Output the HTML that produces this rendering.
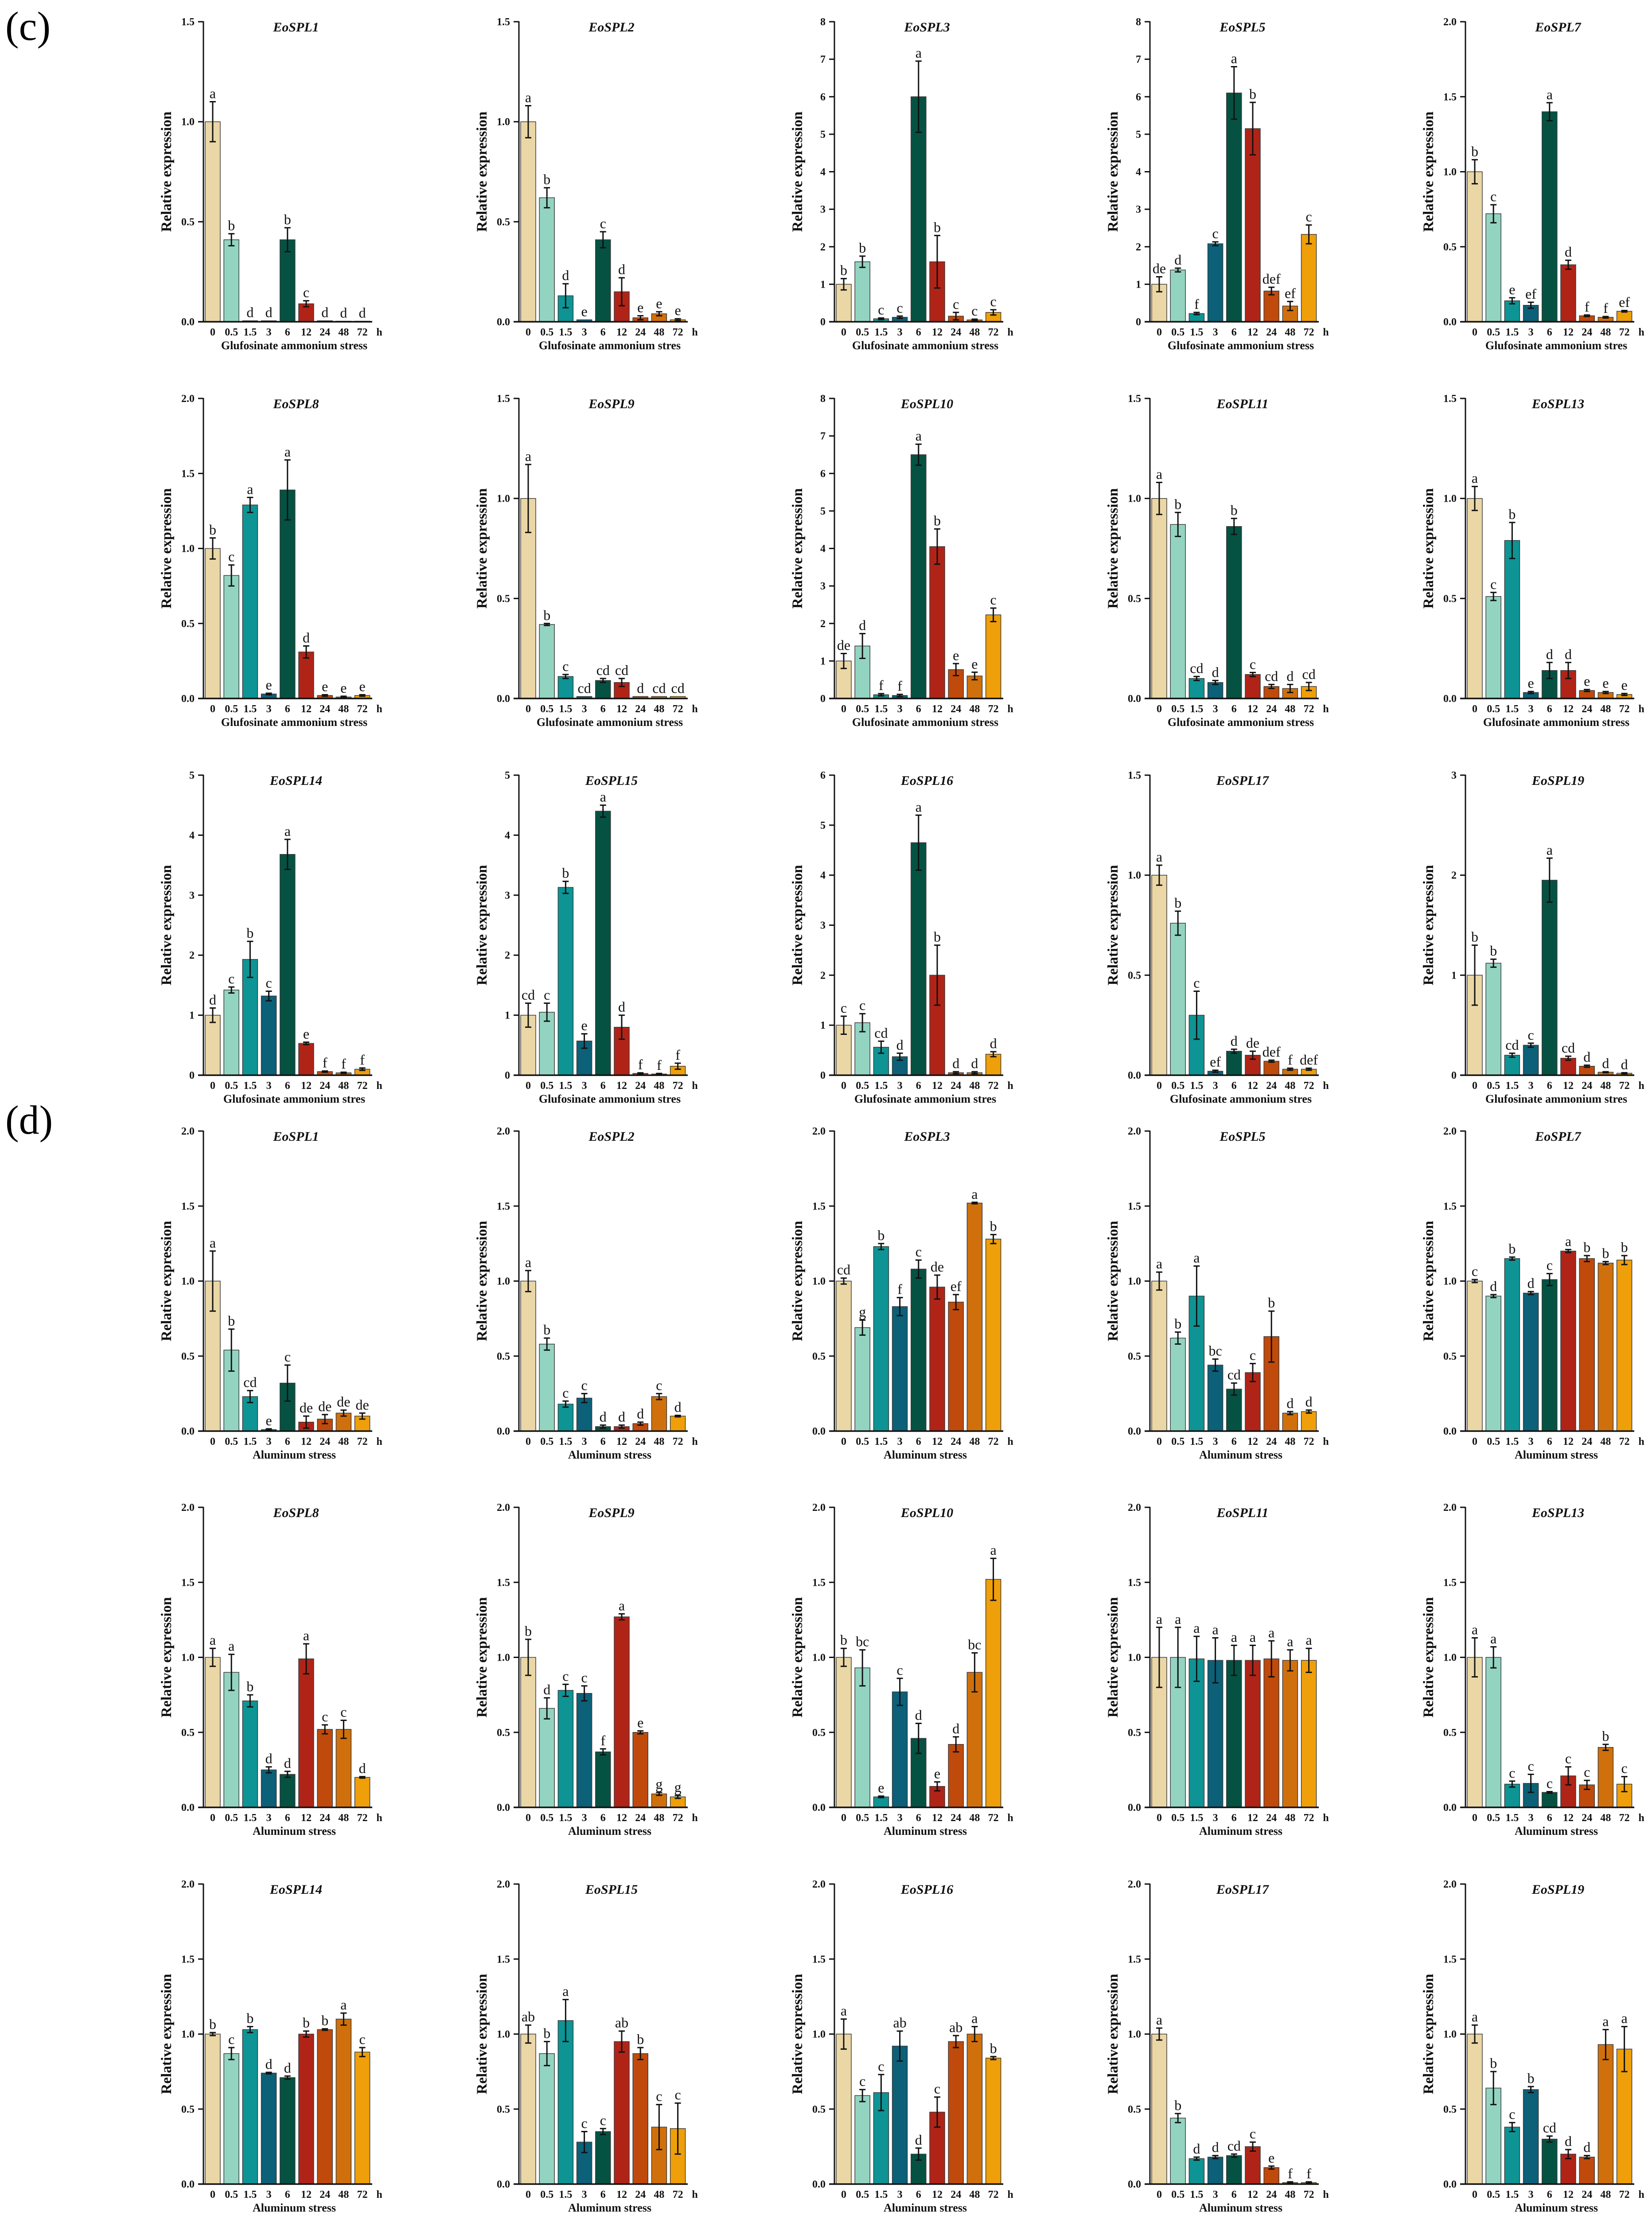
<!DOCTYPE html>
<html><head><meta charset="utf-8"><style>
html,body{margin:0;padding:0;background:#fff;width:3728px;height:5014px;overflow:hidden;}
svg{display:block;}
text{font-family:"Liberation Serif",serif;}
</style></head><body>
<svg id="fig" width="3728" height="5014" viewBox="0 0 3728 5014" xmlns="http://www.w3.org/2000/svg">
<text x="12" y="90" font-size="92">(c)</text>
<text x="12" y="2558" font-size="92">(d)</text>
</svg>
<script>
const times = ["0","0.5","1.5","3","6","12","24","48","72"];
const colors = ["#EBD7A5","#93D4C1","#0E9494","#0C6078","#055243","#B02418","#C04A0C","#D0700C","#EE9F0A"];

const cGenes = ["EoSPL1","EoSPL2","EoSPL3","EoSPL5","EoSPL7","EoSPL8","EoSPL9","EoSPL10","EoSPL11","EoSPL13","EoSPL14","EoSPL15","EoSPL16","EoSPL17","EoSPL19"];
const cMax = [1.5,1.5,8,8,2,2,1.5,8,1.5,1.5,5,5,6,1.5,3];
const cValues = [
[1.0,0.41,0.005,0.005,0.41,0.09,0.005,0.003,0.003],
[1.0,0.62,0.13,0.01,0.41,0.15,0.02,0.04,0.01],
[1.0,1.6,0.08,0.12,6.0,1.6,0.15,0.05,0.25],
[1.0,1.38,0.22,2.08,6.1,5.15,0.82,0.42,2.33],
[1.0,0.72,0.14,0.11,1.4,0.38,0.04,0.03,0.07],
[1.0,0.82,1.29,0.03,1.39,0.31,0.02,0.01,0.02],
[1.0,0.37,0.11,0.01,0.09,0.08,0.01,0.01,0.01],
[1.0,1.4,0.1,0.08,6.5,4.05,0.77,0.6,2.23],
[1.0,0.87,0.1,0.08,0.86,0.12,0.06,0.05,0.06],
[1.0,0.51,0.79,0.03,0.14,0.14,0.04,0.03,0.02],
[1.0,1.42,1.93,1.32,3.68,0.53,0.06,0.04,0.1],
[1.0,1.05,3.13,0.57,4.4,0.8,0.03,0.02,0.15],
[1.0,1.05,0.56,0.37,4.65,2.0,0.05,0.05,0.42],
[1.0,0.76,0.3,0.02,0.12,0.1,0.07,0.03,0.03],
[1.0,1.12,0.2,0.3,1.95,0.17,0.09,0.03,0.02]];
const cErrors = [
[0.1,0.03,0,0,0.06,0.015,0,0,0],
[0.08,0.05,0.06,0,0.04,0.07,0.01,0.01,0.005],
[0.15,0.15,0.02,0.03,0.95,0.7,0.1,0.02,0.07],
[0.2,0.05,0.03,0.05,0.7,0.7,0.1,0.12,0.25],
[0.08,0.06,0.02,0.02,0.06,0.03,0.005,0.005,0.005],
[0.07,0.07,0.05,0.005,0.2,0.04,0.005,0.005,0.005],
[0.17,0.005,0.01,0,0.01,0.02,0,0,0],
[0.2,0.33,0.03,0.03,0.28,0.47,0.16,0.1,0.18],
[0.08,0.06,0.01,0.01,0.04,0.01,0.01,0.02,0.02],
[0.06,0.02,0.09,0.005,0.04,0.04,0.005,0.005,0.005],
[0.12,0.05,0.3,0.08,0.25,0.02,0.01,0.01,0.02],
[0.2,0.15,0.1,0.12,0.1,0.2,0.01,0.01,0.05],
[0.18,0.18,0.12,0.07,0.55,0.6,0.02,0.02,0.05],
[0.05,0.06,0.12,0.005,0.01,0.02,0.005,0.005,0.005],
[0.3,0.04,0.02,0.02,0.22,0.02,0.01,0.005,0.005]];
const cLetters = [
["a","b","d","d","b","c","d","d","d"],
["a","b","d","e","c","d","e","e","e"],
["b","b","c","c","a","b","c","c","c"],
["de","d","f","c","a","b","def","ef","c"],
["b","c","e","ef","a","d","f","f","ef"],
["b","c","a","e","a","d","e","e","e"],
["a","b","c","cd","cd","cd","d","cd","cd"],
["de","d","f","f","a","b","e","e","c"],
["a","b","cd","d","b","c","cd","d","cd"],
["a","c","b","e","d","d","e","e","e"],
["d","c","b","c","a","e","f","f","f"],
["cd","c","b","e","a","d","f","f","f"],
["c","c","cd","d","a","b","d","d","d"],
["a","b","c","ef","d","de","def","f","def"],
["b","b","cd","c","a","cd","d","d","d"]];

const dGenes = ["EoSPL1","EoSPL2","EoSPL3","EoSPL5","EoSPL7","EoSPL8","EoSPL9","EoSPL10","EoSPL11","EoSPL13","EoSPL14","EoSPL15","EoSPL16","EoSPL17","EoSPL19"];
const dMax = [2,2,2,2,2,2,2,2,2,2,2,2,2,2,2];
const dValues = [
[1.0,0.54,0.23,0.01,0.32,0.06,0.08,0.12,0.1],
[1.0,0.58,0.18,0.22,0.03,0.03,0.05,0.23,0.1],
[1.0,0.69,1.23,0.83,1.08,0.96,0.86,1.52,1.28],
[1.0,0.62,0.9,0.44,0.28,0.39,0.63,0.12,0.13],
[1.0,0.9,1.15,0.92,1.01,1.2,1.15,1.12,1.14],
[1.0,0.9,0.71,0.25,0.22,0.99,0.52,0.52,0.2],
[1.0,0.66,0.78,0.76,0.37,1.27,0.5,0.09,0.07],
[1.0,0.93,0.07,0.77,0.46,0.14,0.42,0.9,1.52],
[1.0,1.0,0.99,0.98,0.98,0.98,0.99,0.98,0.98],
[1.0,1.0,0.155,0.16,0.1,0.21,0.15,0.4,0.155],
[1.0,0.87,1.03,0.74,0.71,1.0,1.03,1.1,0.88],
[1.0,0.87,1.09,0.28,0.35,0.95,0.87,0.38,0.37],
[1.0,0.59,0.61,0.92,0.2,0.48,0.95,1.0,0.84],
[1.0,0.44,0.17,0.18,0.19,0.25,0.11,0.01,0.01],
[1.0,0.64,0.38,0.63,0.3,0.2,0.18,0.93,0.9]];
const dErrors = [
[0.2,0.14,0.04,0.005,0.12,0.04,0.03,0.02,0.02],
[0.07,0.04,0.02,0.03,0.01,0.01,0.01,0.02,0.005],
[0.02,0.05,0.02,0.06,0.06,0.08,0.05,0.005,0.03],
[0.06,0.04,0.2,0.04,0.04,0.06,0.17,0.01,0.01],
[0.01,0.01,0.01,0.01,0.04,0.01,0.02,0.01,0.03],
[0.06,0.12,0.04,0.02,0.02,0.1,0.03,0.06,0.005],
[0.12,0.07,0.04,0.05,0.02,0.02,0.01,0.01,0.01],
[0.06,0.12,0.005,0.09,0.1,0.03,0.05,0.13,0.14],
[0.2,0.2,0.15,0.15,0.1,0.1,0.12,0.07,0.08],
[0.13,0.07,0.02,0.06,0.005,0.06,0.03,0.02,0.05],
[0.01,0.04,0.02,0.005,0.01,0.02,0.005,0.04,0.03],
[0.06,0.08,0.14,0.07,0.02,0.07,0.04,0.15,0.17],
[0.1,0.04,0.12,0.1,0.04,0.1,0.04,0.05,0.01],
[0.04,0.03,0.01,0.01,0.01,0.03,0.01,0.005,0.005],
[0.06,0.11,0.03,0.02,0.02,0.03,0.01,0.1,0.15]];
const dLetters = [
["a","b","cd","e","c","de","de","de","de"],
["a","b","c","c","d","d","d","c","d"],
["cd","g","b","f","c","de","ef","a","b"],
["a","b","a","bc","cd","c","b","d","d"],
["c","d","b","d","c","a","b","b","b"],
["a","a","b","d","d","a","c","c","d"],
["b","d","c","c","f","a","e","g","g"],
["b","bc","e","c","d","e","d","bc","a"],
["a","a","a","a","a","a","a","a","a"],
["a","a","c","c","c","c","c","b","c"],
["b","c","b","d","d","b","b","a","c"],
["ab","b","a","c","c","ab","b","c","c"],
["a","c","c","ab","d","c","ab","a","b"],
["a","b","d","d","cd","c","e","f","f"],
["a","b","c","b","cd","d","d","a","a"]];

const NS = "http://www.w3.org/2000/svg";
const svg = document.getElementById("fig");
const AX0 = 459, COLSTEP = 712, PH = 677, BARSTEP = 42.2, BARW = 34;
const cZeros = [726,1576,2426];
const dZeros = [3229,4078,4928];

function mk(tag, attrs, parent){
  const e = document.createElementNS(NS, tag);
  for (const k in attrs) e.setAttribute(k, attrs[k]);
  (parent||svg).appendChild(e);
  return e;
}

function drawPanel(ax, zero, gene, max, vals, errs, lets, xtitle, id){
  const g = mk("g", {});
  
  
  const top = zero - PH;
  const yScale = v => zero - (v / max) * PH;
  const xScale = i => ax + 21 + i * BARSTEP;
  const step = max <= 2 ? 0.5 : 1;
  for (let t = 0; t <= max + 1e-9; t += step) {
    const y = yScale(t);
    const tl = mk("line", {x1: ax - 12, x2: ax, y1: y, y2: y, stroke: "#111", "stroke-width": 3}, g);
    
    
    const tx = mk("text", {x: ax - 20, y: y + 8, "font-size": 24, "font-weight": "bold", "text-anchor": "end", fill: "#111"}, g);
    tx.textContent = step === 0.5 ? t.toFixed(1) : String(Math.round(t));
    
    
  }
  vals.forEach((v, i) => {
    const cx = xScale(i);
    const y = yScale(v);
    const r = mk("rect", {x: cx - BARW/2, y: y, width: BARW, height: Math.max(zero - y, 0.5), fill: colors[i], stroke: "#3a3a3a", "stroke-width": 1.5}, g);
    
    
    const e = errs[i];
    const yHi = yScale(v + e), yLo = yScale(Math.max(v - e, 0));
    if (e > 0) {
      const eb = mk("path", {d: `M${cx},${yLo}V${yHi}M${cx-7},${yHi}H${cx+7}M${cx-7},${yLo}H${cx+7}`, stroke: "#111", "stroke-width": 3, fill: "none"}, g);
      
      
    }
    const lt = mk("text", {x: cx, y: Math.min(yHi, y) - 8, "font-size": 32, "text-anchor": "middle", fill: "#111"}, g);
    lt.textContent = lets[i];
    
    
    const xl = mk("text", {x: cx, y: zero + 31, "font-size": 24, "font-weight": "bold", "text-anchor": "middle", fill: "#111"}, g);
    xl.textContent = times[i];
    
    
  });
  const hl = mk("text", {x: ax + 397, y: zero + 31, "font-size": 24, "font-weight": "bold", "text-anchor": "middle", fill: "#111"}, g);
  hl.textContent = "h";
  
  
  const ya = mk("line", {x1: ax, x2: ax, y1: top - 1, y2: zero + 1.5, stroke: "#111", "stroke-width": 3}, g);
  
  
  const xa = mk("line", {x1: ax - 12, x2: ax + 381, y1: zero, y2: zero, stroke: "#111", "stroke-width": 3.5}, g);
  
  
  const tt = mk("text", {x: ax + 209, y: top + 22, "font-size": 30, "font-weight": "bold", "font-style": "italic", "text-anchor": "middle", fill: "#111"}, g);
  tt.textContent = gene;
  
  
  const yl = mk("text", {x: 0, y: 0, "font-size": 33, "font-weight": "bold", "text-anchor": "middle", fill: "#111", transform: `translate(${ax - 73},${(top + zero)/2}) rotate(-90)`}, g);
  yl.textContent = "Relative expression";
  
  
  const xt = mk("text", {x: ax + 205, y: zero + 62, "font-size": 26, "font-weight": "bold", "text-anchor": "middle", fill: "#111"}, g);
  xt.textContent = xtitle;
  
  
}

for (let p = 0; p < 15; p++) {
  const col = p % 5, row = Math.floor(p / 5);
  const xt = (p === 1 || p === 4 || p >= 10) ? "Glufosinate ammonium stres" : "Glufosinate ammonium stress";
  drawPanel(AX0 + col * COLSTEP, cZeros[row], cGenes[p], cMax[p], cValues[p], cErrors[p], cLetters[p], xt, "c-" + cGenes[p]);
}
for (let p = 0; p < 15; p++) {
  const col = p % 5, row = Math.floor(p / 5);
  drawPanel(AX0 + col * COLSTEP, dZeros[row], dGenes[p], dMax[p], dValues[p], dErrors[p], dLetters[p], "Aluminum stress", "d-" + dGenes[p]);
}
</script>
</body></html>
